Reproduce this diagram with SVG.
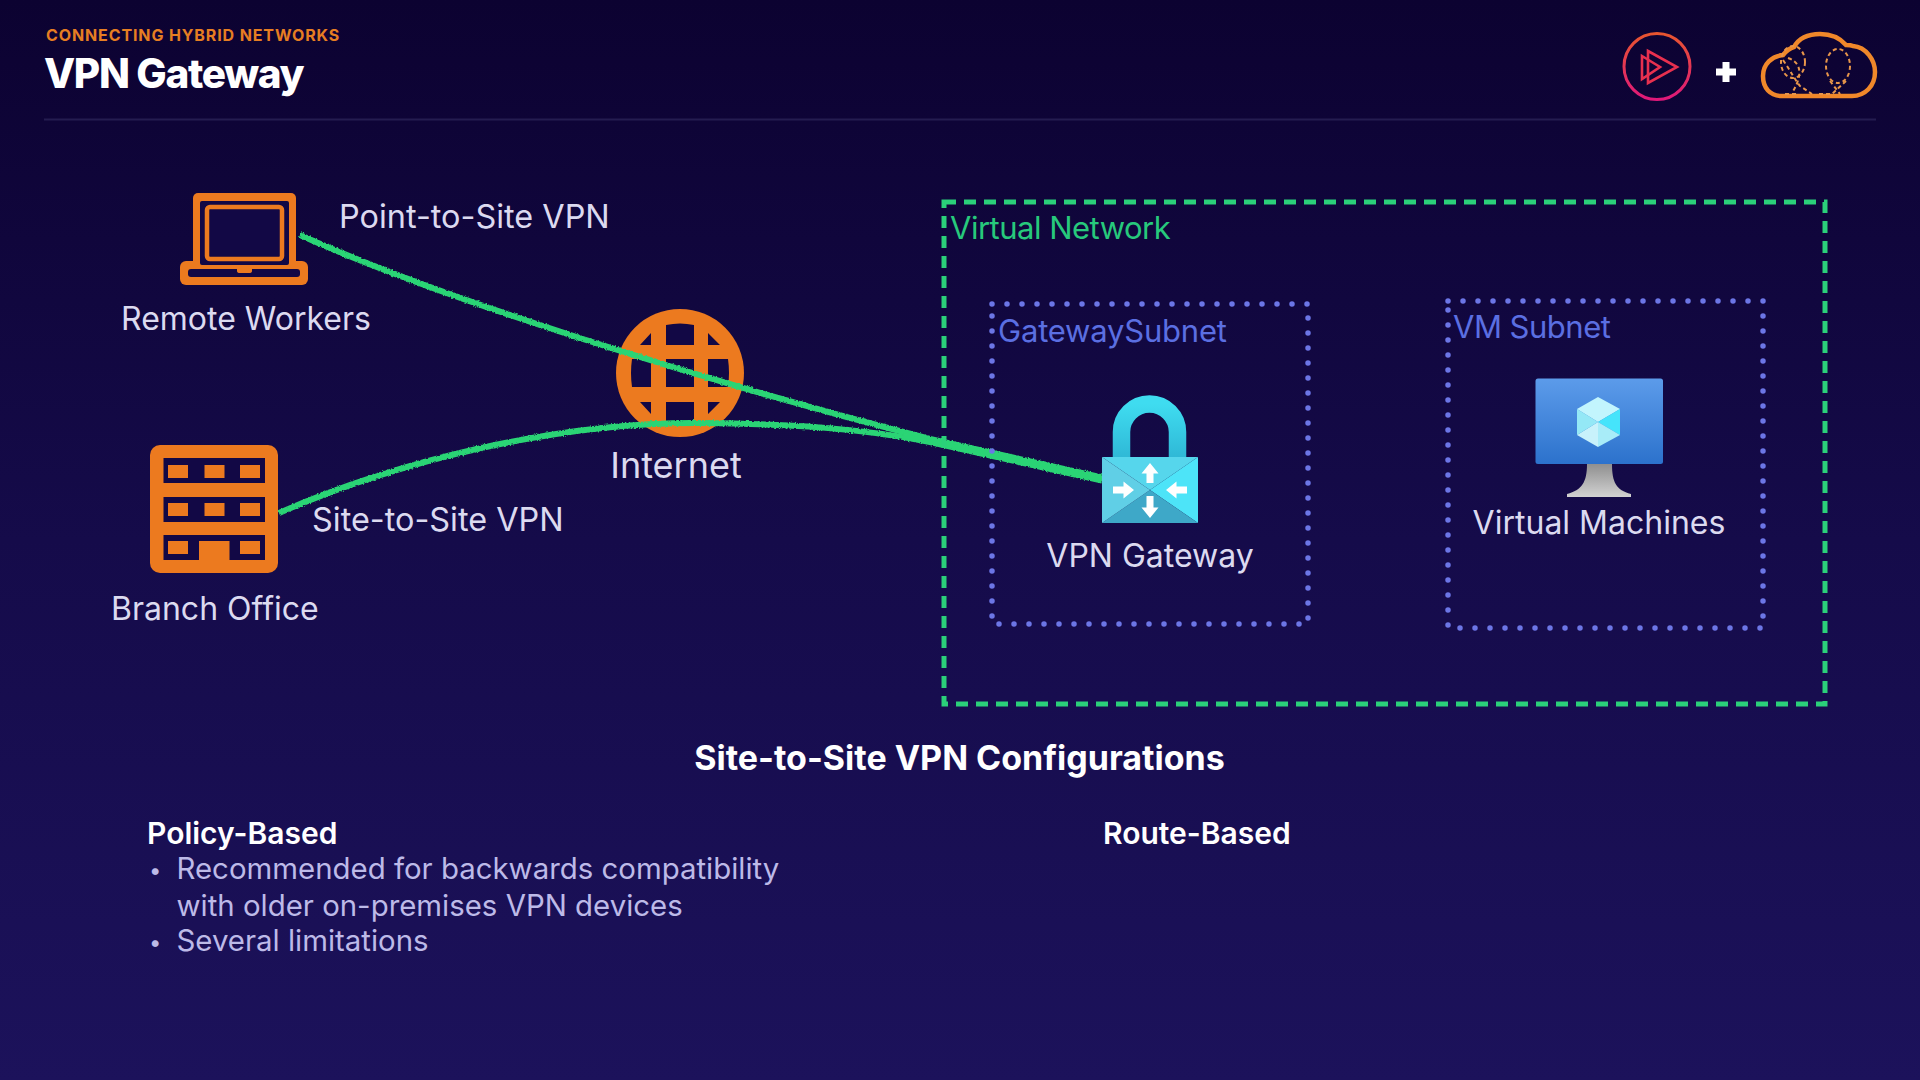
<svg xmlns="http://www.w3.org/2000/svg" width="1920" height="1080" viewBox="0 0 1920 1080">
<defs>
<linearGradient id="bg" x1="0" y1="0" x2="0" y2="1"><stop offset="0" stop-color="#0c0231"/><stop offset="0.5" stop-color="#150b4a"/><stop offset="1" stop-color="#1c125b"/></linearGradient>
<linearGradient id="ps" x1="0" y1="0" x2="0" y2="1"><stop offset="0" stop-color="#e8552f"/><stop offset="1" stop-color="#e0187a"/></linearGradient>
<linearGradient id="shackle" x1="0" y1="0" x2="0" y2="1"><stop offset="0" stop-color="#3fdcf0"/><stop offset="1" stop-color="#2fb8d6"/></linearGradient>
<linearGradient id="screen" x1="0" y1="0" x2="0" y2="1"><stop offset="0" stop-color="#5c9bea"/><stop offset="1" stop-color="#2c72cc"/></linearGradient>
<linearGradient id="stand" x1="0" y1="0" x2="0" y2="1"><stop offset="0" stop-color="#8f8f8f"/><stop offset="1" stop-color="#d2d2d2"/></linearGradient>
<filter id="rough" x="-5%" y="-20%" width="110%" height="140%"><feTurbulence type="fractalNoise" baseFrequency="0.6" numOctaves="2" seed="3"/><feDisplacementMap in="SourceGraphic" scale="3" xChannelSelector="R" yChannelSelector="G"/></filter>
<style>
text{font-family:Inter,"Noto Sans","Liberation Sans",sans-serif}
.o{fill:#ec7a1f}
.d{fill:#120845}
.lbl{font-size:32px;fill:#dcdaf0}
.lbl2{font-size:32.400px;fill:#dcdaf0}
.wire{fill:none;stroke:#2bd474;stroke-width:6;stroke-linecap:butt}
.vnet{fill:none;stroke:#2bd07a;stroke-width:5;stroke-dasharray:12 8}
.sub{fill:none;stroke:#6c76e6;stroke-width:5.500;stroke-linecap:round;stroke-dasharray:0 15}
.sublbl{font-size:31px;fill:#5b6fe2}
.h{font-weight:600;fill:#fff}
.b{font-size:29.400px;fill:#bdbae8}
.w{fill:#fff}
.bln{fill:none;stroke:#e8964a;stroke-width:2;stroke-dasharray:4 3}
</style>
</defs>
<rect width="1920" height="1080" fill="url(#bg)"/>
<g id="header">
<text x="46" y="41" font-size="16" font-weight="700" fill="#e67e22" letter-spacing="0.880">CONNECTING HYBRID NETWORKS</text>
<text x="44" y="87.500" font-size="40.500" font-weight="800" fill="#fff" letter-spacing="-1.300">VPN Gateway</text>
<rect x="44" y="118.500" width="1832" height="2" fill="#241c50"/>
</g>
<g id="logo-pluralsight">
<circle cx="1657" cy="66.500" r="33" fill="none" stroke="url(#ps)" stroke-width="3"/>
<path d="M1648,51 L1677,67 L1648,83 Z" fill="none" stroke="#e8304f" stroke-width="2.600"/>
<path d="M1642,56 L1660,67 L1642,79 Z" fill="none" stroke="#e8304f" stroke-width="2.600"/>
</g>
<path id="plus" d="M1722.500,62 h7 v6.500 h6.500 v7 h-6.500 v6.500 h-7 v-6.500 h-6.500 v-7 h6.500 Z" fill="#fff"/>
<g id="logo-cloud">
<path d="M1782,96 C1770,96 1763,88 1763,76 C1763,64 1772,56 1783,55 C1787,50 1790,48 1794,47 C1799,38 1809,34 1820,34 C1831,34 1840,38 1846,45 C1848,45 1851,45 1853,46 C1866,47 1875,60 1875,72 C1875,86 1865,96 1852,96 Z" fill="none" stroke="#f0882a" stroke-width="4.500"/>
<ellipse cx="1838" cy="66" rx="12" ry="17" class="bln"/>
<path d="M1830,81 L1840,94 M1846,81 L1832,94 M1830,94 H1816" class="bln"/>
<ellipse cx="1793" cy="62" rx="12" ry="16" class="bln"/>
<path d="M1783,60 C1790,70 1795,80 1800,86 L1812,94 M1788,58 C1805,64 1800,80 1792,93 M1785,94 H1798" class="bln"/>
</g>
<g id="remote-workers">
<rect x="180" y="261" width="128" height="24" rx="6" class="o"/>
<rect x="193" y="193" width="103" height="76" rx="5" class="o"/>
<rect x="200" y="201" width="89" height="64" rx="2" class="d"/>
<rect x="207" y="207" width="75" height="52" rx="3" fill="none" stroke="#ec7a1f" stroke-width="4.500"/>
<rect x="188" y="269" width="112" height="8" rx="3" class="d"/>
<path d="M237,269 H252 V271 Q252,273 249,273 H240 Q237,273 237,271 Z" class="o"/>
<text x="121" y="330" class="lbl">Remote Workers</text>
</g>
<text id="label-p2s" x="339" y="228" class="lbl2">Point-to-Site VPN</text>
<g id="branch-office">
<rect x="150" y="445" width="128" height="128" rx="10" class="o"/>
<rect x="163.500" y="458" width="101.500" height="25" class="d"/>
<rect x="163.500" y="497" width="101.500" height="25" class="d"/>
<rect x="163.500" y="535" width="101.500" height="25" class="d"/>
<g class="o">
<rect x="168" y="465" width="20" height="13"/><rect x="204.500" y="465" width="20" height="13"/><rect x="240" y="465" width="20" height="13"/>
<rect x="168" y="503" width="20" height="13"/><rect x="204.500" y="503" width="20" height="13"/><rect x="240" y="503" width="20" height="13"/>
<rect x="168" y="541" width="20" height="13"/><rect x="199" y="541" width="30.500" height="19"/><rect x="240" y="541" width="20" height="13"/>
</g>
<text x="111" y="620" class="lbl">Branch Office</text>
</g>
<text id="label-s2s" x="312" y="531" class="lbl2">Site-to-Site VPN</text>
<g id="internet">
<circle cx="680" cy="373" r="64" class="o"/>
<path class="d" d="M666,345 V325 Q680,322 694,325 V345 Z M640,345 L651,333 V345 Z M708,333 L720,345 H708 Z M651,359 H632 Q630,373 632,387 H651 Z M666,359 H694 V387 H666 Z M708,359 H728 Q730,373 728,387 H708 Z M640,402 H651 V414 Z M666,402 H694 V421 Q680,424 666,421 Z M708,402 H720 L708,414 Z"/>
<text x="676" y="478" text-anchor="middle" font-size="36" fill="#dcdaf0">Internet</text>
</g>
<g id="connectors">
<path class="wire" filter="url(#rough)" d="M300,235 C440,298 700,380 930,439 L1102,477.500"/>
<path class="wire" filter="url(#rough)" d="M279,513 C400,460 560,422 700,423 C790,424 860,428 930,442 L1102,480.500"/>
</g>
<g id="virtual-network">
<rect x="944" y="202" width="881" height="502" class="vnet"/>
<text x="950" y="239" font-size="31" fill="#27c97c" letter-spacing="-0.500">Virtual Network</text>
</g>
<g id="gateway-subnet">
<rect x="992" y="304" width="316" height="320" class="sub"/>
<text x="998" y="342" class="sublbl" letter-spacing="-0.200">GatewaySubnet</text>
</g>
<g id="vpn-gateway">
<path d="M1121.500,458 V432 A28,28 0 0 1 1177.500,432 V458" fill="none" stroke="url(#shackle)" stroke-width="17.500"/>
<path d="M1102,457 H1198 L1150,490 Z" fill="#56d6ec"/>
<path d="M1198,457 V523 L1150,490 Z" fill="#4de4f8"/>
<path d="M1198,523 H1102 L1150,490 Z" fill="#3ea8c8"/>
<path d="M1102,523 V457 L1150,490 Z" fill="#60cfe6"/>
<path class="w" d="M1150,463 L1158.500,473.500 H1153.500 V483 H1146.500 V473.500 H1141.500 Z"/>
<path class="w" d="M1150,518 L1158.500,507.500 H1153.500 V496 H1146.500 V507.500 H1141.500 Z"/>
<path class="w" d="M1134,490 L1123.500,481.500 V486.500 H1113 V493.500 H1123.500 V498.500 Z"/>
<path class="w" d="M1166,490 L1176.500,481.500 V486.500 H1187 V493.500 H1176.500 V498.500 Z"/>
<text x="1150" y="567" text-anchor="middle" class="lbl">VPN Gateway</text>
</g>
<g id="vm-subnet">
<rect x="1448" y="301" width="315" height="327" class="sub"/>
<text x="1453" y="338" class="sublbl" letter-spacing="-0.500">VM Subnet</text>
</g>
<g id="virtual-machines">
<path d="M1587,464 H1612 C1612,482 1616,490 1631,494 V497 H1567 V494 C1582,490 1587,482 1587,464 Z" fill="url(#stand)"/>
<rect x="1535.500" y="378.500" width="127.500" height="85.500" rx="2.500" fill="url(#screen)"/>
<path d="M1598,397 L1620,409 L1598,422 L1577,409 Z" fill="#c2f5fd"/>
<path d="M1620,409 V435 L1598,422 Z" fill="#45e4fb"/>
<path d="M1620,435 L1598,447 V422 Z" fill="#a8ecf8"/>
<path d="M1598,447 L1577,435 L1598,422 Z" fill="#c8f2fb"/>
<path d="M1577,435 V409 L1598,422 Z" fill="#94e8f6"/>
<text x="1599" y="534" text-anchor="middle" class="lbl">Virtual Machines</text>
</g>
<g id="configurations">
<text x="959.500" y="770" text-anchor="middle" font-size="34" font-weight="700" fill="#fff">Site-to-Site VPN Configurations</text>
<text x="147" y="844" font-size="30" class="h">Policy-Based</text>
<text x="1103" y="844" font-size="30" class="h">Route-Based</text>
<text x="149" y="878" font-size="22" fill="#bdbae8">•</text>
<text x="176.500" y="879" class="b">Recommended for backwards compatibility</text>
<text x="176.500" y="915.500" class="b">with older on-premises VPN devices</text>
<text x="149" y="950" font-size="22" fill="#bdbae8">•</text>
<text x="176.500" y="951" class="b">Several limitations</text>
</g>
</svg>
